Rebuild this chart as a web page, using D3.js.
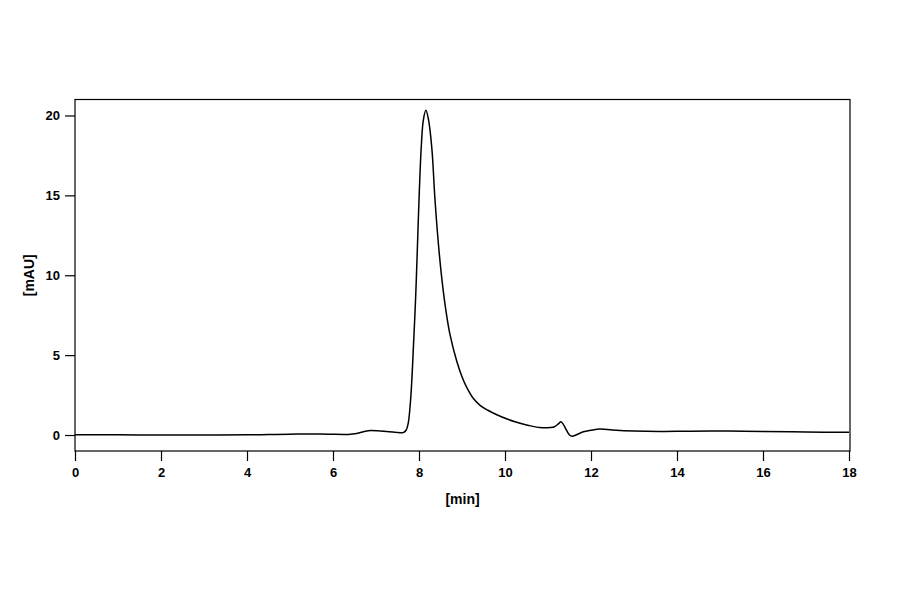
<!DOCTYPE html>
<html>
<head>
<meta charset="utf-8">
<script src="https://cdn.jsdelivr.net/npm/d3@7"></script>
<style>
  body { margin: 0; background: #fff; }
  text { font-family: "Liberation Sans", Arial, sans-serif; font-weight: bold; }
</style>
</head>
<body>
<div id="chart"></div>
<script>
// retention time [min] and absorbance [mAU]
const times = [0, 1, 2, 3, 4, 4.5, 5, 5.4, 5.9, 6.36, 6.55, 6.82, 7.1, 7.44, 7.63, 7.7, 7.75, 7.81, 7.87, 7.92, 7.96, 8.0, 8.05, 8.1, 8.16,
               8.22, 8.3, 8.37, 8.45, 8.53, 8.62, 8.72, 8.88, 9.0, 9.11, 9.26, 9.42, 9.6, 9.81, 10.05, 10.27, 10.55, 10.81, 11.05,
               11.15, 11.24, 11.3, 11.36, 11.43, 11.5, 11.56, 11.65, 11.82, 12.0, 12.21, 12.5, 13.0, 13.6, 14.3, 15.2, 16, 17, 18];
const mAU = [0.02, 0.01, 0.0, 0.0, 0.01, 0.03, 0.05, 0.07, 0.05, 0.04, 0.1, 0.27, 0.25, 0.18, 0.15, 0.3, 0.75, 2.4, 5.5, 8.5, 11.5, 14.7, 17.9, 19.7, 20.33,
             19.75, 17.9, 14.8, 12.0, 9.8, 7.9, 6.3, 4.6, 3.65, 2.98, 2.3, 1.86, 1.55, 1.27, 1.0, 0.8, 0.6, 0.47, 0.47,
             0.52, 0.7, 0.83, 0.65, 0.3, 0.0, -0.08, 0.0, 0.2, 0.3, 0.38, 0.32, 0.25, 0.22, 0.24, 0.25, 0.22, 0.19, 0.17];
const xTicks = [0, 2, 4, 6, 8, 10, 12, 14, 16, 18];
const yTicks = [0, 5, 10, 15, 20];

const data = times.map((t, i) => ({ t: t, v: mAU[i] }));

const width = 900;
const height = 594;
const plotLeft = 75, plotRight = 850, plotTop = 99.5, plotBottom = 451;

const svg = d3.select("#chart")
        .append("svg")
        .attr("width", width)
        .attr("height", height);

const x = d3.scaleLinear().domain([0, 18]).range([plotLeft, plotRight - 1]);
const y = d3.scaleLinear().domain([-1, 21]).range([plotBottom, plotTop]);

// x axis with ticks pointing down
const xAxis = svg.append("g")
        .attr("transform", `translate(0, ${plotBottom})`)
        .call(d3.axisBottom(x).tickValues(xTicks).tickSize(10).tickPadding(7).tickFormat(d3.format("d")));
xAxis.select(".domain").remove();
xAxis.selectAll("line").attr("stroke", "#000").attr("stroke-width", 1.2);
xAxis.selectAll("text").attr("font-size", 13).attr("fill", "#000");

const yAxis = svg.append("g")
        .attr("transform", `translate(${plotLeft}, 0)`)
        .call(d3.axisLeft(y).tickValues(yTicks).tickSize(10).tickPadding(5).tickFormat(d3.format("d")));
yAxis.select(".domain").remove();
yAxis.selectAll("line").attr("stroke", "#000").attr("stroke-width", 1.2);
yAxis.selectAll("text").attr("font-size", 13).attr("fill", "#000");

// frame round the plot
svg.append("rect")
        .attr("x", plotLeft)
        .attr("y", plotTop)
        .attr("width", plotRight - plotLeft)
        .attr("height", plotBottom - plotTop)
        .attr("fill", "none")
        .attr("stroke", "#000")
        .attr("stroke-width", 1.2);

const line = d3.line()
        .x(d => x(d.t))
        .y(d => y(d.v))
        .curve(d3.curveCatmullRom.alpha(0.5));

svg.append("path")
        .datum(data)
        .attr("d", line)
        .attr("fill", "none")
        .attr("stroke", "#000")
        .attr("stroke-width", 1.5);

svg.append("text")
        .text("[min]")
        .attr("x", (plotLeft + plotRight) / 2)
        .attr("y", 504)
        .attr("text-anchor", "middle")
        .attr("font-size", 14);

svg.append("text")
        .text("[mAU]")
        .attr("transform", `translate(34, ${y(10)}) rotate(-90)`)
        .attr("text-anchor", "middle")
        .attr("font-size", 14);
</script>
</body>
</html>
